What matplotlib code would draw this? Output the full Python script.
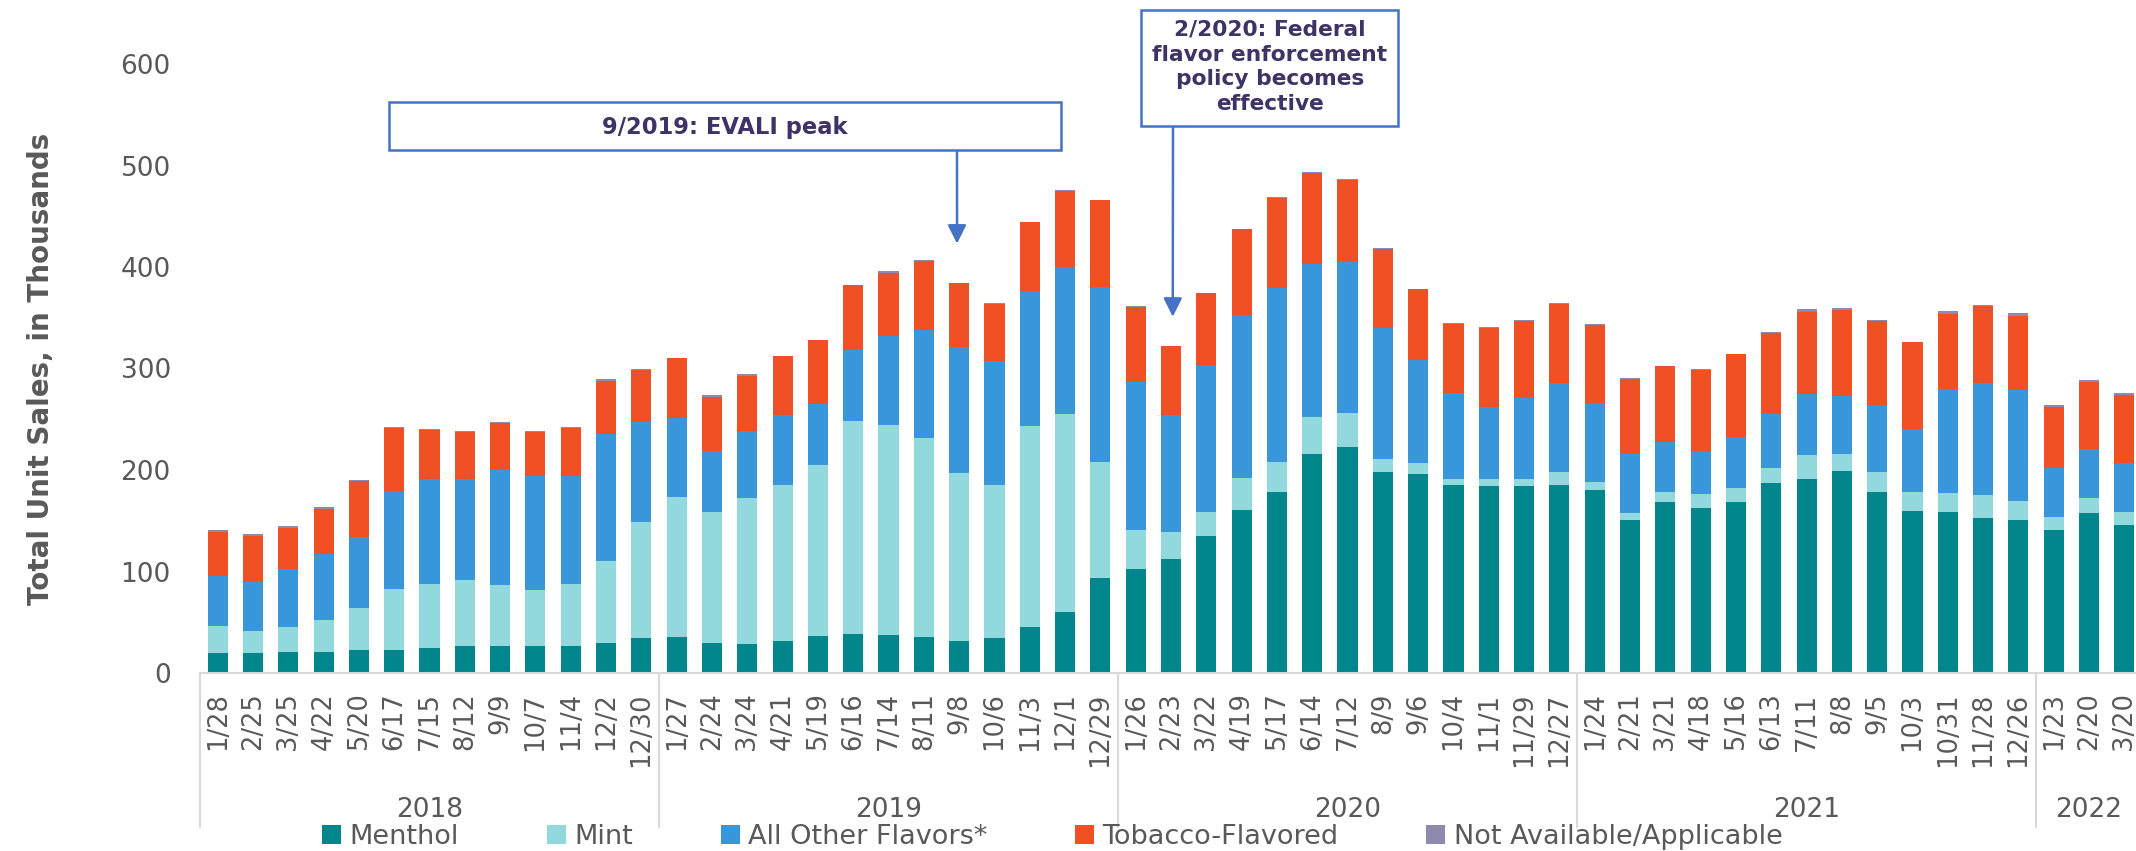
import numpy as np
import matplotlib
matplotlib.use("Agg")
import matplotlib.pyplot as plt
from matplotlib.patches import Rectangle, Patch

# ── Data (thousands of units, 4-week periods) ─────────────────────
years = ["2018", "2019", "2020", "2021", "2022"]
periods = [
    ["1/28", "2/25", "3/25", "4/22", "5/20", "6/17", "7/15", "8/12", "9/9", "10/7", "11/4", "12/2", "12/30"],
    ["1/27", "2/24", "3/24", "4/21", "5/19", "6/16", "7/14", "8/11", "9/8", "10/6", "11/3", "12/1", "12/29"],
    ["1/26", "2/23", "3/22", "4/19", "5/17", "6/14", "7/12", "8/9", "9/6", "10/4", "11/1", "11/29", "12/27"],
    ["1/24", "2/21", "3/21", "4/18", "5/16", "6/13", "7/11", "8/8", "9/5", "10/3", "10/31", "11/28", "12/26"],
    ["1/23", "2/20", "3/20"],
]

menthol = [20, 20, 21, 21, 23, 23, 25, 27, 27, 27, 27, 30, 34,
           35, 30, 29, 32, 36, 38, 37, 35, 32, 34, 45, 60, 94,
           102, 112, 135, 161, 178, 216, 223, 198, 196, 185, 184, 184, 185,
           180, 151, 168, 163, 168, 187, 191, 199, 178, 160, 159, 153, 151,
           141, 158, 146]
mint = [26, 21, 24, 31, 41, 60, 63, 65, 60, 55, 61, 80, 115,
        138, 129, 143, 153, 169, 210, 207, 197, 165, 151, 198, 195, 114,
        39, 27, 24, 31, 30, 36, 33, 13, 11, 6, 7, 7, 13,
        8, 7, 10, 13, 14, 15, 24, 17, 20, 18, 18, 22, 18,
        13, 14, 13]
other = [50, 49, 57, 65, 70, 96, 103, 99, 113, 112, 106, 125, 98,
         78, 60, 66, 69, 60, 70, 88, 106, 124, 122, 133, 145, 172,
         146, 115, 144, 161, 171, 151, 149, 129, 101, 85, 71, 80, 88,
         78, 58, 50, 43, 51, 53, 60, 57, 66, 62, 103, 111, 110,
         48, 49, 48]
tobacco = [43, 45, 41, 45, 55, 62, 48, 46, 46, 43, 47, 53, 52,
           59, 53, 55, 58, 63, 64, 62, 68, 63, 57, 68, 75, 86,
           74, 68, 71, 84, 89, 90, 81, 78, 70, 68, 78, 76, 78,
           77, 74, 74, 80, 81, 80, 81, 85, 83, 86, 74, 76, 73,
           60, 66, 67]
not_avail = [1.5, 1.5, 2, 2, 1, 1.5, 1.5, 1, 1.5, 1.5, 1.5, 2, 1,
             0.5, 2, 2, 0.5, 0.5, 0.5, 2, 0.5, 0.5, 0.5, 0.5, 0.5, 0.5,
             0.5, 0.5, 0.5, 0.5, 0.5, 0.5, 0.5, 0.5, 0.5, 0.5, 0.5, 0.5, 0.5,
             0.5, 0.5, 0.5, 0.5, 0.5, 0.5, 2.5, 2, 0.5, 0.5, 2.5, 0.5, 2.5,
             2, 2, 2]

series = [
    ("Menthol", menthol, "#00868B"),
    ("Mint", mint, "#92D9DE"),
    ("All Other Flavors*", other, "#3897DA"),
    ("Tobacco-Flavored", tobacco, "#F05023"),
    ("Not Available/Applicable", not_avail, "#8E8AAE"),
]

labels = [p for grp in periods for p in grp]
x = np.arange(len(labels))

grey = "#595959"
note_col = "#3D3366"
box_col = "#4472C4"

fig = plt.figure(figsize=(21.36, 8.51), dpi=100)
ax = fig.add_axes([200 / 2136, 178 / 851, 1 - 200 / 2136, 609 / 851])

bottom = np.zeros(len(x))
for name, vals, col in series:
    vals = np.array(vals, dtype=float)
    ax.bar(x, vals, 0.57, bottom=bottom, color=col, label=name, linewidth=0)
    bottom += vals

ax.set_xlim(-0.5, 54.33)
ax.set_ylim(0, 600)
ax.set_yticks(range(0, 601, 100))
ax.tick_params(axis="y", length=0, pad=21, labelsize=19, labelcolor=grey)
ax.set_xticks(x)
ax.set_xticklabels(labels, rotation=90, fontsize=18.5, color=grey)
ax.tick_params(axis="x", length=0, pad=14)
for s in ("top", "right", "left"):
    ax.spines[s].set_visible(False)
ax.spines["bottom"].set_color("#D9D9D9")
ax.spines["bottom"].set_linewidth(1.5)

ax.set_ylabel("Total Unit Sales, in Thousands", fontsize=20, fontweight="bold",
              color=grey, labelpad=47)

# year groups: separators + labels
xt = ax.get_xaxis_transform()
start = 0
for yr, grp in zip(years, periods):
    ax.plot([start - 0.5, start - 0.5], [0, -0.253], transform=xt, color="#D9D9D9",
            lw=1.5, clip_on=False)
    ax.text(start + (len(grp) - 1) / 2, -0.225, yr, transform=xt, ha="center",
            va="center", fontsize=19, color=grey)
    start += len(grp)

# ── Annotations ───────────────────────────────────────────────────
def fx(px):
    return px / 2136

def fy(py):
    return 1 - py / 851

fig.add_artist(Rectangle((fx(389), fy(150)), fx(1061) - fx(389), fy(102) - fy(150),
                         transform=fig.transFigure, facecolor="white",
                         edgecolor=box_col, lw=1.8))
fig.text(fx(725), fy(127), "9/2019: EVALI peak", ha="center", va="center",
         fontsize=16.3, fontweight="bold", color=note_col)
ax.annotate("", xy=(labels.index("9/8") - 0.06, 423), xycoords="data",
            xytext=(fx(957), fy(150)), textcoords="figure fraction",
            arrowprops=dict(arrowstyle="-|>", color=box_col, lw=1.8,
                            mutation_scale=28, shrinkA=0, shrinkB=0))

fig.add_artist(Rectangle((fx(1141), fy(126)), fx(1398) - fx(1141), fy(10) - fy(126),
                         transform=fig.transFigure, facecolor="white",
                         edgecolor=box_col, lw=1.8))
fig.text(fx(1270), fy(67), "2/2020: Federal\nflavor enforcement\npolicy becomes\neffective",
         ha="center", va="center", fontsize=15.7, fontweight="bold", color=note_col,
         linespacing=1.3)
ax.annotate("", xy=(labels.index("2/23") + 0.05, 351), xycoords="data",
            xytext=(fx(1173), fy(126)), textcoords="figure fraction",
            arrowprops=dict(arrowstyle="-|>", color=box_col, lw=1.8,
                            mutation_scale=28, shrinkA=0, shrinkB=0))

# ── Legend ────────────────────────────────────────────────────────
handles = [Patch(facecolor=c, label=n) for n, _, c in series]
fig.legend(handles=handles, loc="center", bbox_to_anchor=(0.4927, 0.016), ncol=5,
           frameon=False, fontsize=19.5, labelcolor=grey, handlelength=0.7,
           handleheight=0.7, handletextpad=0.3, columnspacing=3.25,
           borderpad=0, borderaxespad=0)

fig.savefig("out.png", dpi=100)
